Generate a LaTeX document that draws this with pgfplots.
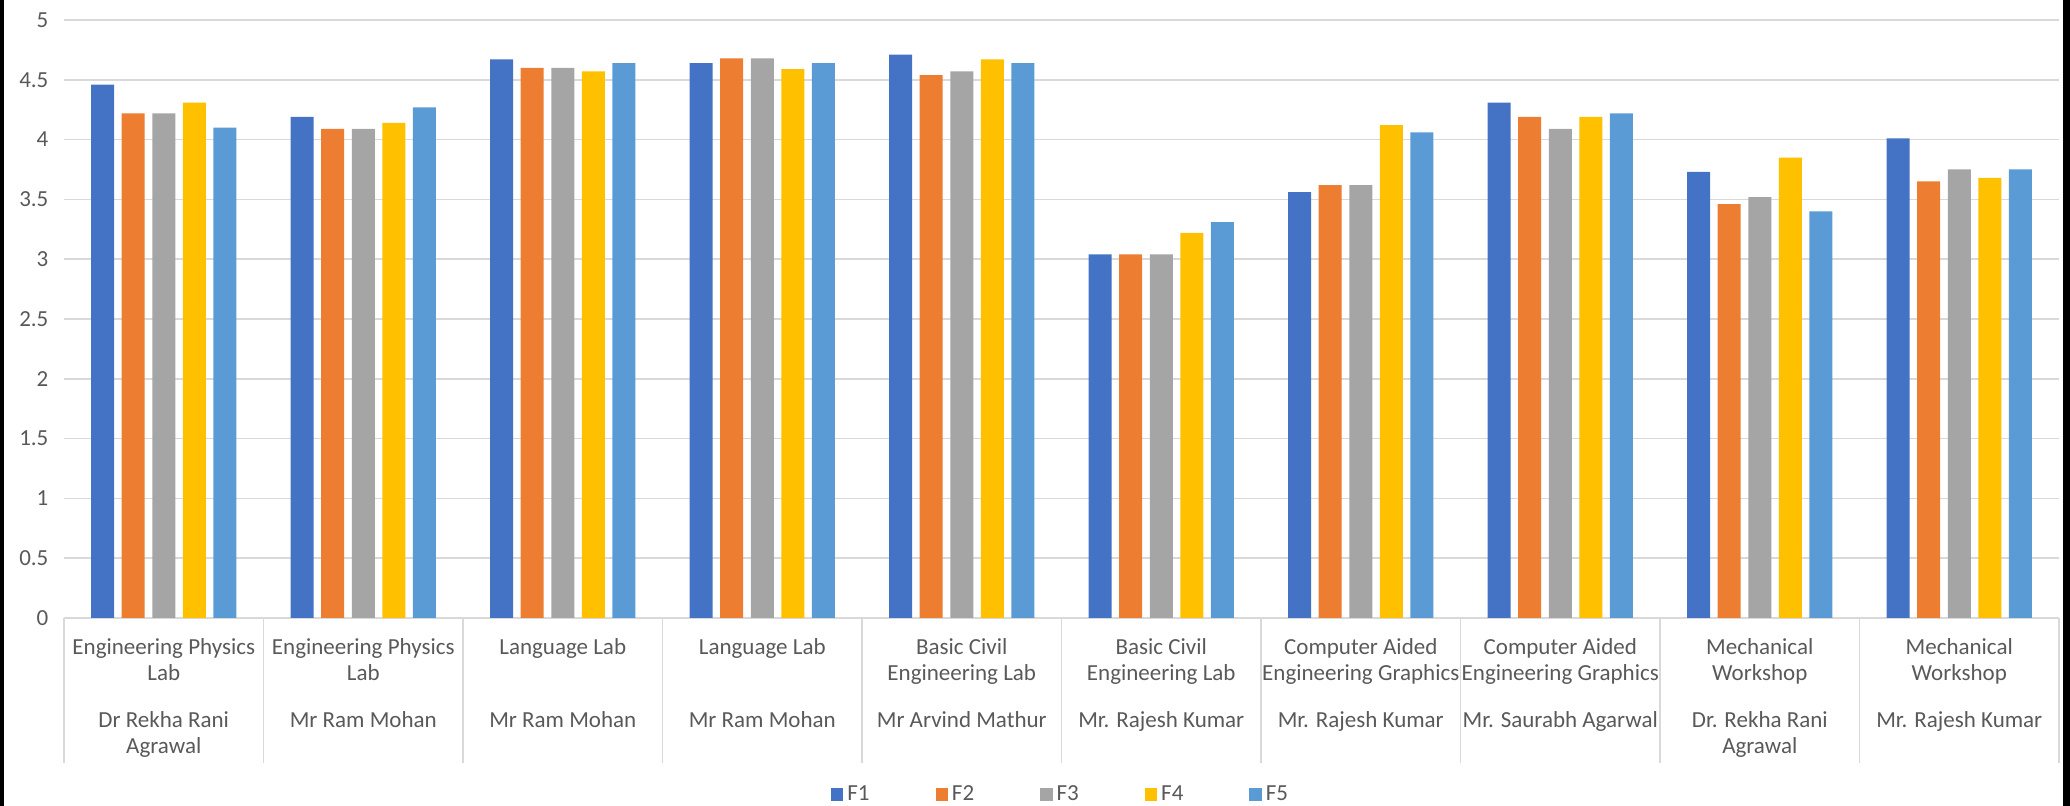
\documentclass[border=0pt]{standalone}
\usepackage{pgfplots}
\pgfplotsset{compat=1.18}
\usepackage{fontspec}
\setmainfont{Carlito}
\usetikzlibrary{calc}
\definecolor{cF1}{HTML}{4472C4}
\definecolor{cF2}{HTML}{ED7D31}
\definecolor{cF3}{HTML}{A5A5A5}
\definecolor{cF4}{HTML}{FFC000}
\definecolor{cF5}{HTML}{5B9BD5}
\definecolor{tickgray}{HTML}{595959}
\definecolor{gridgray}{HTML}{D9D9D9}
% two-level category label: lab (2 lines) over teacher (2 lines)
\newcommand{\lab}[4]{\strut#1\\\strut#2\\[10.5pt]\strut#3\\\strut#4}
\newcommand{\lblfont}{\fontsize{11.5}{13}\selectfont}
\begin{document}
\begin{tikzpicture}
\begin{axis}[
  name=ax,
  scale only axis,
  width=997.5pt, height=299pt,
  xmin=-0.5, xmax=9.5,
  ymin=0, ymax=5,
  ybar=3.8pt, bar width=11.5pt,
  axis line style={draw=none},
  ymajorgrids,
  grid style={draw=gridgray, line width=0.75pt},
  tick style={draw=none},
  tick align=outside,
  xtick pos=bottom, ytick pos=left,
  ytick={0,0.5,1,1.5,2,2.5,3,3.5,4,4.5,5},
  yticklabel style={/pgf/number format/fixed, /pgf/number format/precision=1,
    /pgf/number format/assume math mode=true, font=\lblfont, text=tickgray},
  xtick={0,1,2,3,4,5,6,7,8,9},
  xticklabels={
    {\lab{Engineering Physics}{Lab}{Dr Rekha Rani}{Agrawal}},
    {\lab{Engineering Physics}{Lab}{Mr Ram Mohan}{}},
    {\lab{Language Lab}{}{Mr Ram Mohan}{}},
    {\lab{Language Lab}{}{Mr Ram Mohan}{}},
    {\lab{Basic Civil}{Engineering Lab}{Mr Arvind Mathur}{}},
    {\lab{Basic Civil}{Engineering Lab}{Mr. Rajesh Kumar}{}},
    {\lab{Computer Aided}{Engineering Graphics}{Mr. Rajesh Kumar}{}},
    {\lab{Computer Aided}{Engineering Graphics}{Mr. Saurabh Agarwal}{}},
    {\lab{Mechanical}{Workshop}{Dr. Rekha Rani}{Agrawal}},
    {\lab{Mechanical}{Workshop}{Mr. Rajesh Kumar}{}}},
  xticklabel style={font=\lblfont, text=tickgray, align=center, anchor=north, yshift=-1.5pt},
  extra x ticks={-0.5,0.5,1.5,2.5,3.5,4.5,5.5,6.5,7.5,8.5,9.5},
  extra x tick labels={},
  extra x tick style={grid=none, major tick length=72.5pt,
    tick style={draw=gridgray, line width=0.75pt}},
  legend columns=5,
  legend style={at={(0.5,-0.295)}, anchor=center, draw=none, fill=none,
    font=\lblfont, text=tickgray,
    /tikz/every even column/.append style={column sep=31pt}},
  legend image code/.code={\fill[#1] (0pt,-3.1pt) rectangle (6.2pt,3.1pt);},
]
\addplot[fill=cF1, draw=none] coordinates {(0,4.46)(1,4.19)(2,4.67)(3,4.64)(4,4.71)(5,3.04)(6,3.56)(7,4.31)(8,3.73)(9,4.01)};
\addplot[fill=cF2, draw=none] coordinates {(0,4.22)(1,4.09)(2,4.60)(3,4.68)(4,4.54)(5,3.04)(6,3.62)(7,4.19)(8,3.46)(9,3.65)};
\addplot[fill=cF3, draw=none] coordinates {(0,4.22)(1,4.09)(2,4.60)(3,4.68)(4,4.57)(5,3.04)(6,3.62)(7,4.09)(8,3.52)(9,3.75)};
\addplot[fill=cF4, draw=none] coordinates {(0,4.31)(1,4.14)(2,4.57)(3,4.59)(4,4.67)(5,3.22)(6,4.12)(7,4.19)(8,3.85)(9,3.68)};
\addplot[fill=cF5, draw=none] coordinates {(0,4.10)(1,4.27)(2,4.64)(3,4.64)(4,4.64)(5,3.31)(6,4.06)(7,4.22)(8,3.40)(9,3.75)};
\legend{F1,F2,F3,F4,F5}
\end{axis}
\pgfresetboundingbox
\path ($(ax.south west)+(-32pt,-94pt)$) rectangle ($(ax.north east)+(5.5pt,10pt)$);
\fill[black] ($(ax.south west)+(-32pt,-94pt)$) rectangle ($(ax.north west)+(-30pt,10pt)$);
\fill[black] ($(ax.south east)+(2pt,-94pt)$) rectangle ($(ax.north east)+(5.5pt,10pt)$);
\end{tikzpicture}
\end{document}
